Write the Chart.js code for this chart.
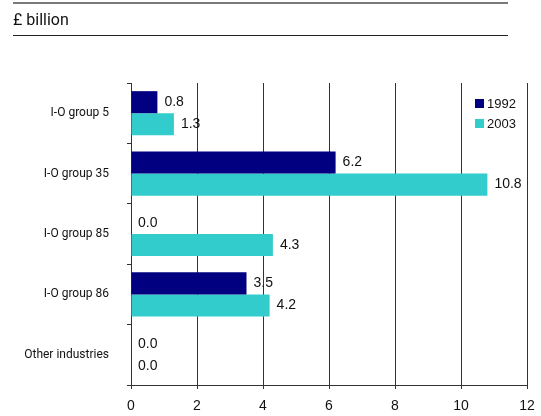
<!DOCTYPE html>
<html>
<head>
<meta charset="utf-8">
<script src="https://cdn.jsdelivr.net/npm/chart.js@4/dist/chart.umd.min.js"></script>
<style>
  html, body { margin: 0; padding: 0; background: #fff; }
  #wrap { position: relative; width: 541px; height: 416px; }
</style>
</head>
<body>
<div id="wrap"><canvas id="chart" width="541" height="416"></canvas></div>
<script>
// Output by industry group, 1992 vs 2003
const categories = ['I-O group 5', 'I-O group 35', 'I-O group 85', 'I-O group 86', 'Other industries'];
const values1992 = [0.8, 6.2, 0.0, 3.5, 0.0];
const values2003 = [1.3, 10.8, 4.3, 4.2, 0.0];
const xTicks = [0, 2, 4, 6, 8, 10, 12];
const seriesNames = ['1992', '2003'];

const NAVY = '#000080';
const TEAL = '#33CCCC';
const AXIS = '#333333';
const LABEL_FONT = 'Roboto, "Open Sans", sans-serif';

// header rule, unit text and bottom rule above the chart
const headerPlugin = {
    id: 'header',
    beforeDraw(chart) {
        const ctx = chart.ctx;
        ctx.save();
        ctx.fillStyle = '#fff';
        ctx.fillRect(0, 0, chart.width, chart.height);
        ctx.strokeStyle = '#7a7a7a';
        ctx.lineWidth = 2;
        ctx.beginPath();
        ctx.moveTo(13, 3);
        ctx.lineTo(508, 3);
        ctx.stroke();
        ctx.strokeStyle = '#222';
        ctx.lineWidth = 1;
        ctx.beginPath();
        ctx.moveTo(13, 35.5);
        ctx.lineTo(508, 35.5);
        ctx.stroke();
        ctx.fillStyle = '#111';
        ctx.font = '16px ' + LABEL_FONT;
        ctx.textBaseline = 'alphabetic';
        ctx.fillText('\u00A3 billion', 13, 25);
        ctx.restore();
    }
};

// value labels at the end of each bar
const valueLabels = {
    id: 'valueLabels',
    afterDatasetsDraw(chart) {
        const ctx = chart.ctx;
        ctx.save();
        ctx.font = '14px "Liberation Sans", Arial, sans-serif';
        ctx.fillStyle = '#111';
        ctx.textAlign = 'left';
        ctx.textBaseline = 'middle';
        chart.data.datasets.forEach((ds, i) => {
            chart.getDatasetMeta(i).data.forEach((bar, j) => {
                ctx.fillText(ds.data[j].toFixed(1), bar.x + 7, bar.y);
            });
        });
        ctx.restore();
    }
};

// legend box in the top right corner of the plot
const cornerLegend = {
    id: 'cornerLegend',
    afterDraw(chart) {
        const ctx = chart.ctx;
        ctx.save();
        ctx.font = '13px "Liberation Sans", Arial, sans-serif';
        ctx.textBaseline = 'middle';
        chart.data.datasets.forEach((ds, i) => {
            const y = 99 + i * 20;
            ctx.fillStyle = ds.backgroundColor;
            ctx.fillRect(475, y, 9, 9);
            ctx.fillStyle = '#111';
            ctx.fillText(ds.label, 487, y + 5);
        });
        ctx.restore();
    }
};

new Chart(document.getElementById('chart'), {
    type: 'bar',
    data: {
        labels: categories,
        datasets: [
            { label: seriesNames[0], data: values1992, backgroundColor: NAVY },
            { label: seriesNames[1], data: values2003, backgroundColor: TEAL }
        ]
    },
    options: {
        indexAxis: 'y',
        responsive: false,
        animation: false,
        events: [],
        layout: { padding: { top: 83, right: 14, left: 0, bottom: 0 } },
        datasets: { bar: { categoryPercentage: 0.73, barPercentage: 1.0 } },
        plugins: { legend: { display: false }, tooltip: { enabled: false } },
        scales: {
            x: {
                min: 0,
                max: 12,
                afterBuildTicks(scale) {
                    scale.ticks = xTicks.map(v => ({ value: v }));
                },
                afterFit(scale) {
                    scale.height = 31;
                    scale.paddingLeft = 0;
                    scale.paddingRight = 0;
                },
                grid: {
                    color: AXIS,
                    lineWidth: 1,
                    drawTicks: true,
                    tickLength: 4
                },
                border: { color: AXIS, width: 1 },
                ticks: {
                    padding: 9,
                    color: '#111',
                    font: { family: '"Liberation Sans", Arial, sans-serif', size: 14 }
                }
            },
            y: {
                afterFit(scale) {
                    scale.width = 131;
                    scale.paddingTop = 0;
                    scale.paddingBottom = 0;
                },
                grid: {
                    drawOnChartArea: false,
                    drawTicks: true,
                    tickLength: 4,
                    color: AXIS
                },
                border: { color: AXIS, width: 1 },
                ticks: {
                    padding: 18,
                    color: '#111',
                    font: { family: LABEL_FONT, size: 12 }
                }
            }
        }
    },
    plugins: [headerPlugin, valueLabels, cornerLegend]
});
</script>
</body>
</html>
